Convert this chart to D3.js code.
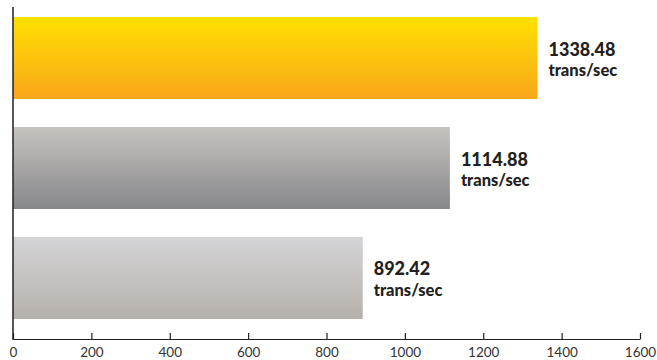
<!DOCTYPE html>
<html>
<head>
<meta charset="utf-8">
<script src="https://cdn.jsdelivr.net/npm/d3@7"></script>
<style>
  html, body { margin: 0; padding: 0; background: #fff; }
  svg { display: block; }
</style>
</head>
<body>
<svg id="chart" width="657" height="360"></svg>
<script>
const categories = ["A", "B", "C"];
const values = [1338.48, 1114.88, 892.42];
const valueLabels = ["1338.48", "1114.88", "892.42"];
const unitLabel = "trans/sec";
const tickValues = [0, 200, 400, 600, 800, 1000, 1200, 1400, 1600];
const gradients = [
  ["#FFE100", "#F9A61B"],
  ["#C8C3BE", "#86878B"],
  ["#D4D4D6", "#B6B0AB"]
];

const svg = d3.select("#chart");
const x = d3.scaleLinear().domain([0, 1600]).range([13, 640]);
const y = d3.scaleBand().domain(categories).range([17, 319]).paddingInner(0.2545).paddingOuter(0);

const defs = svg.append("defs");
gradients.forEach((g, i) => {
  const lg = defs.append("linearGradient").attr("id", "g" + i)
    .attr("x1", 0).attr("y1", 0).attr("x2", 0).attr("y2", 1);
  lg.append("stop").attr("offset", "0%").attr("stop-color", g[0]);
  lg.append("stop").attr("offset", "100%").attr("stop-color", g[1]);
});

svg.selectAll("rect.bar").data(values).join("rect")
  .attr("class", "bar")
  .attr("x", x(0))
  .attr("y", (d, i) => y(categories[i]))
  .attr("width", d => x(d) - x(0))
  .attr("height", y.bandwidth())
  .attr("fill", (d, i) => `url(#g${i})`);

const labels = svg.selectAll("g.lab").data(values).join("g")
  .attr("class", "lab")
  .attr("transform", (d, i) => `translate(${x(d) + 11},${y(categories[i]) + y.bandwidth() / 2})`);
labels.append("text")
  .attr("y", -2.5)
  .attr("font-family", "Lato, 'DejaVu Sans', sans-serif")
  .attr("font-weight", "900")
  .attr("font-size", 18)
  .attr("fill", "#231f20")
  .text((d, i) => valueLabels[i]);
labels.append("text")
  .attr("y", 18)
  .attr("font-family", "Lato, 'DejaVu Sans', sans-serif")
  .attr("font-weight", "900")
  .attr("font-size", 16.5)
  .attr("fill", "#231f20")
  .text(unitLabel);

// y axis line
svg.append("line")
  .attr("x1", x(0)).attr("x2", x(0))
  .attr("y1", 7).attr("y2", 340)
  .attr("stroke", "#231f20").attr("stroke-width", 1.5);

// x axis
const xAxis = d3.axisBottom(x).tickValues(tickValues).tickSize(-6).tickSizeOuter(0).tickPadding(8)
  .tickFormat(d3.format("d"));
const gx = svg.append("g").attr("transform", "translate(0,339)").call(xAxis);
gx.select(".domain").attr("stroke", "#231f20").attr("stroke-width", 1.2);
gx.selectAll(".tick line").attr("stroke", "#231f20").attr("stroke-width", 1.2);
gx.selectAll(".tick text")
  .attr("font-family", "Lato, 'DejaVu Sans', sans-serif")
  .attr("font-size", 13.5)
  .attr("fill", "#333")
  .attr("dy", "0.71em");
</script>
</body>
</html>
